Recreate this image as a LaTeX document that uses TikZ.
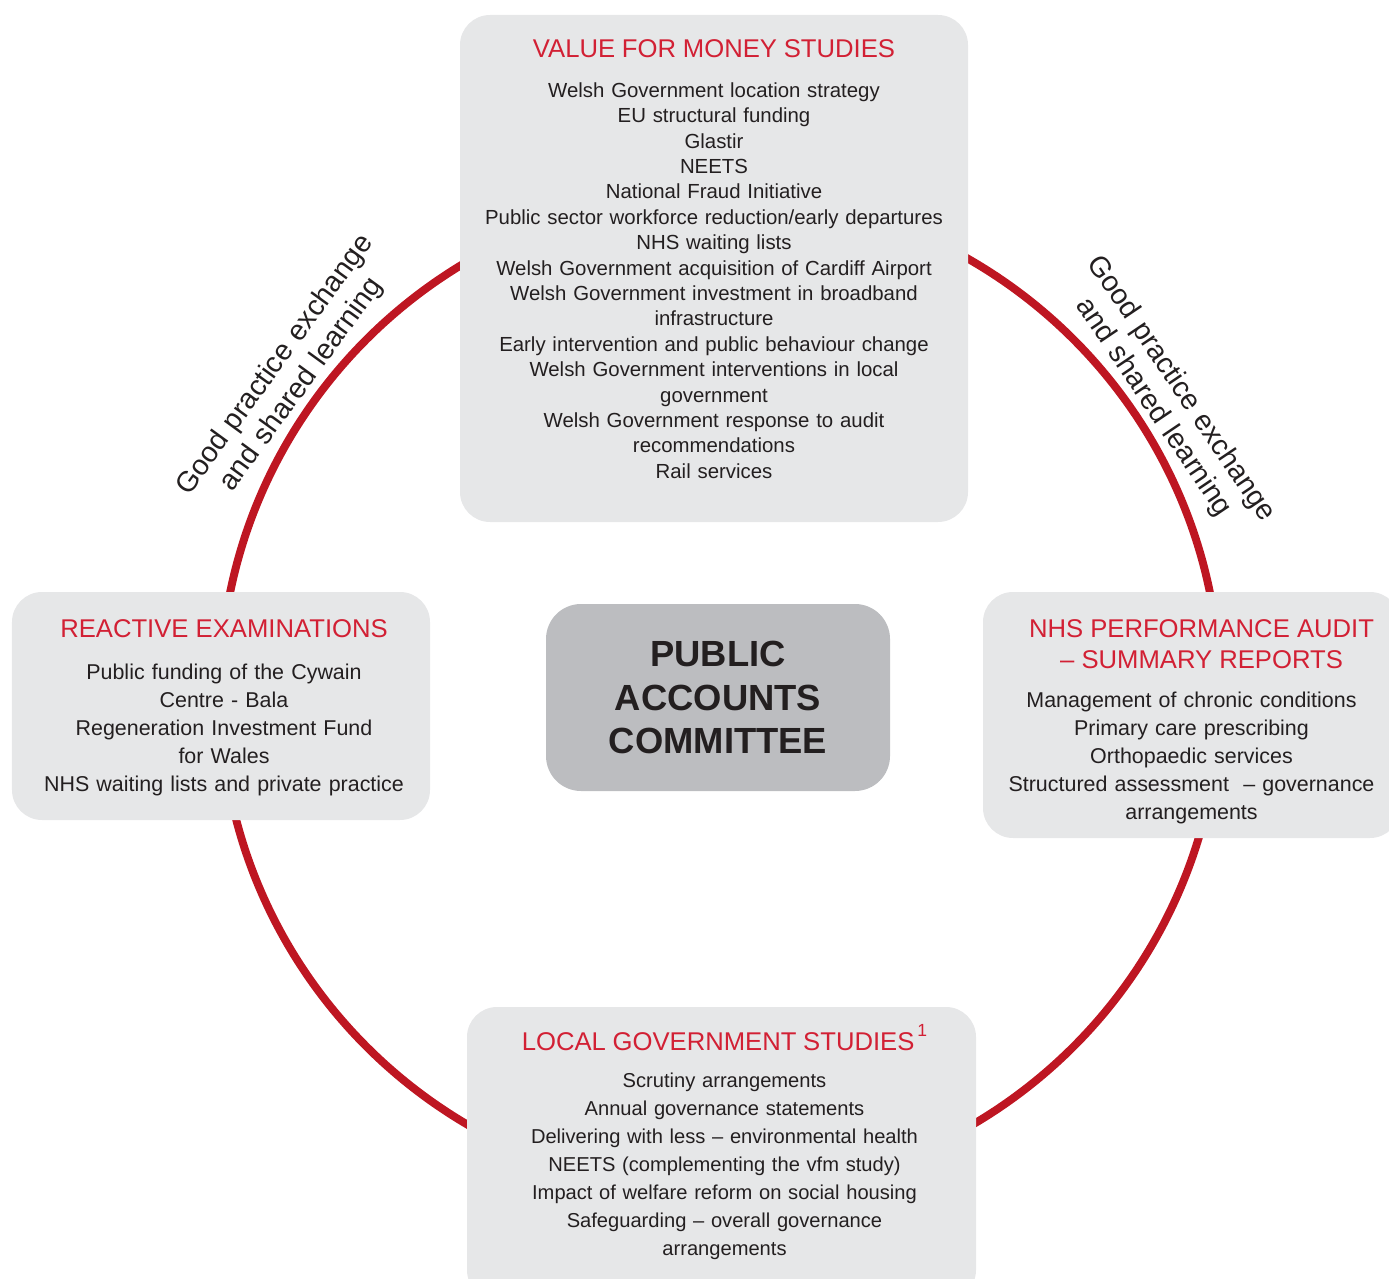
\documentclass[tikz,border=0pt]{standalone}
\usepackage{fontspec}
\setmainfont{Liberation Sans}
\usepackage{tikz}
\usetikzlibrary{positioning}

\definecolor{ringred}{RGB}{190,22,34}
\definecolor{headred}{RGB}{210,32,52}
\definecolor{panelgray}{RGB}{230,231,232}
\definecolor{hubgray}{RGB}{188,189,192}
\definecolor{inkgray}{RGB}{35,31,32}

\newcommand{\panelhead}[1]{{\color{headred}\fontsize{14.6}{17.6}\selectfont #1}}

\begin{document}
\begin{tikzpicture}
  \tikzstyle{panel} = [fill=panelgray, rounded corners=0.6cm, inner sep=0pt]
  \tikzstyle{listing} = [text=inkgray, align=center, inner sep=0pt, font=\fontsize{12.2}{15.9}\selectfont]
  \tikzstyle{hub} = [fill=hubgray, rounded corners=0.7cm, text=inkgray, align=center, font=\bfseries\fontsize{20.7}{25}\selectfont]
  \tikzstyle{motto} = [text=inkgray, align=center, inner sep=0pt, text width=7cm, font=\fontsize{16.3}{18.8}\selectfont]

  \useasboundingbox (0,0) rectangle (27.78,25.56);
  \clip (0,0) rectangle (27.78,25.56);

  \coordinate (ring) at (14.40,11.70);
  \draw[ringred, line width=4.5pt] (ring) circle (10cm);

  \node[panel, minimum width=10.16cm, minimum height=10.14cm] (vfm) at (14.28,20.19) {};
  \node[listing, text width=9.8cm, font=\fontsize{11.6}{14.45}\selectfont, below=0.5cm of vfm.north] (vfmlist) {%
    \panelhead{VALUE FOR MONEY STUDIES}\\[8pt]
    Welsh Government location strategy\\
    EU structural funding\\
    Glastir\\
    NEETS\\
    National Fraud Initiative\\
    Public sector workforce reduction/early departures\\
    NHS waiting lists\\
    Welsh Government acquisition of Cardiff Airport\\
    Welsh Government investment in broadband\\
    infrastructure\\
    Early intervention and public behaviour change\\
    Welsh Government interventions in local\\
    government\\
    Welsh Government response to audit\\
    recommendations\\
    Rail services};

  \node[panel, minimum width=8.36cm, minimum height=4.56cm] (reactive) at (4.42,11.44) {};
  \node[listing, text width=8.1cm, below=0.56cm of reactive.north, xshift=0.06cm] (reactivelist) {%
    \panelhead{REACTIVE EXAMINATIONS}\\[7.9pt]
    Public funding of the Cywain\\
    Centre - Bala\\
    Regeneration Investment Fund\\
    for Wales\\
    NHS waiting lists and private practice};

  \node[panel, minimum width=8.34cm, minimum height=4.92cm] (nhs) at (23.83,11.26) {};
  \node[listing, text width=8.1cm, below=0.56cm of nhs.north] (nhslist) {%
    \panelhead{\hspace*{0.4cm}NHS PERFORMANCE AUDIT\\[1.7pt]\hspace*{0.4cm}– SUMMARY REPORTS}\\[6.2pt]
    Management of chronic conditions\\
    Primary care prescribing\\
    Orthopaedic services\\
    Structured assessment~ – governance\\
    arrangements};

  \node[panel, minimum width=10.18cm, minimum height=5.86cm] (local) at (14.43,2.49) {};
  \node[listing, text width=9.9cm, font=\fontsize{11.45}{15.9}\selectfont, below=0.52cm of local.north, xshift=0.06cm] (locallist) {%
    \panelhead{LOCAL GOVERNMENT STUDIES\smash{\raisebox{8pt}{\fontsize{10}{10}\selectfont\,1}}}\\[5.1pt]
    Scrutiny arrangements\\
    Annual governance statements\\
    Delivering with less – environmental health\\
    NEETS (complementing the vfm study)\\
    Impact of welfare reform on social housing\\
    Safeguarding – overall governance\\
    arrangements};

  \node[hub, minimum width=6.88cm, minimum height=3.74cm] (pac) at (14.36,11.61) {PUBLIC\\ACCOUNTS\\COMMITTEE};

  \node[motto, rotate=54] (mottoleft) at ([shift={(143.6:10.72)}]ring) {Good practice exchange\\and shared learning};
  \node[motto, rotate=-56] (mottoright) at ([shift={(33.4:10.71)}]ring) {Good practice exchange\\and shared learning};

\end{tikzpicture}
\end{document}
